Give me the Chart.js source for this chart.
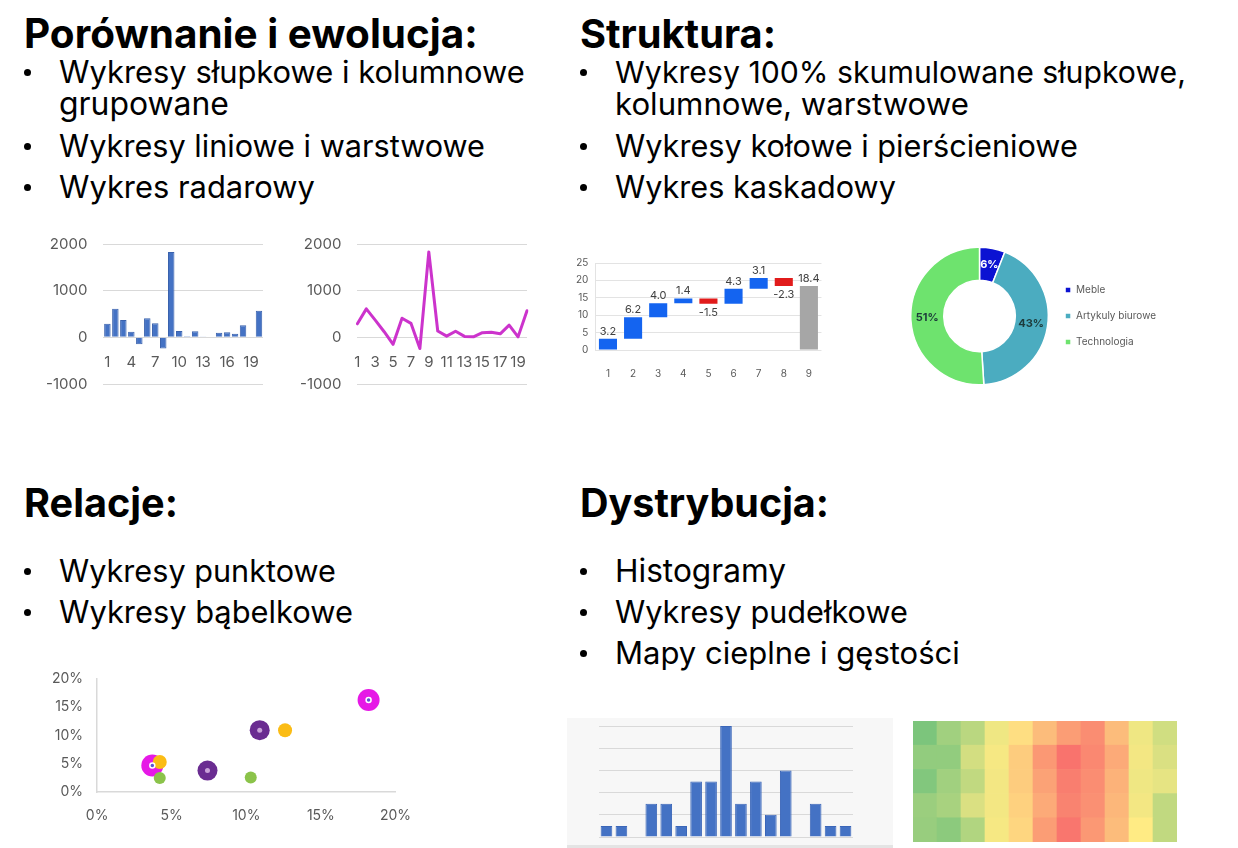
<!DOCTYPE html>
<html lang="pl">
<head>
<meta charset="utf-8">
<title>Rodzaje wykresów</title>
<script src="https://cdn.jsdelivr.net/npm/chart.js@4.4.1/dist/chart.umd.min.js"></script>
<style>
  html, body { margin: 0; padding: 0; background: #fff; }
  #page { position: relative; width: 1238px; height: 848px; overflow: hidden; font-family: Inter, "Open Sans", sans-serif; color: #000; }
  .t { position: absolute; white-space: nowrap; line-height: 1; }
  .h { font-weight: 700; }
  .bu { position: absolute; width: 7px; height: 7px; border-radius: 50%; background: #000; }
  .bl { display: inline-block; width: 0; height: 0; vertical-align: baseline; }
  .chart { position: absolute; }
  #histPanel { position: absolute; left: 567px; top: 718px; width: 326px; height: 130px; background: #f7f7f7; border-bottom: 3px solid #e4e4e4; box-sizing: border-box; }
</style>
</head>
<body>
<div id="page">
  <div class="t h" data-x="24" data-b="48" data-w="454"><span class="tx">Porównanie i ewolucja:</span><span class="bl"></span></div>
  <div class="t" data-x="59" data-b="83" data-w="466" data-bullet="1"><span class="tx">Wykresy słupkowe i kolumnowe</span><span class="bl"></span></div>
  <div class="t" data-x="59" data-b="115" data-w="170"><span class="tx">grupowane</span><span class="bl"></span></div>
  <div class="t" data-x="59" data-b="157" data-w="426" data-bullet="1"><span class="tx">Wykresy liniowe i warstwowe</span><span class="bl"></span></div>
  <div class="t" data-x="59" data-b="198" data-w="256" data-bullet="1"><span class="tx">Wykres radarowy</span><span class="bl"></span></div>

  <div class="t h" data-x="580" data-b="48" data-w="196"><span class="tx">Struktura:</span><span class="bl"></span></div>
  <div class="t" data-x="615" data-b="83" data-w="571" data-bullet="1"><span class="tx">Wykresy 100% skumulowane słupkowe,</span><span class="bl"></span></div>
  <div class="t" data-x="615" data-b="115" data-w="354"><span class="tx">kolumnowe, warstwowe</span><span class="bl"></span></div>
  <div class="t" data-x="615" data-b="157" data-w="463" data-bullet="1"><span class="tx">Wykresy kołowe i pierścieniowe</span><span class="bl"></span></div>
  <div class="t" data-x="615" data-b="198" data-w="281" data-bullet="1"><span class="tx">Wykres kaskadowy</span><span class="bl"></span></div>

  <div class="t h" data-x="24" data-b="517" data-w="154"><span class="tx">Relacje:</span><span class="bl"></span></div>
  <div class="t" data-x="59" data-b="582" data-w="277" data-bullet="1"><span class="tx">Wykresy punktowe</span><span class="bl"></span></div>
  <div class="t" data-x="59" data-b="623" data-w="294" data-bullet="1"><span class="tx">Wykresy bąbelkowe</span><span class="bl"></span></div>

  <div class="t h" data-x="580" data-b="517" data-w="249"><span class="tx">Dystrybucja:</span><span class="bl"></span></div>
  <div class="t" data-x="615" data-b="582" data-w="171" data-bullet="1"><span class="tx">Histogramy</span><span class="bl"></span></div>
  <div class="t" data-x="615" data-b="623" data-w="293" data-bullet="1"><span class="tx">Wykresy pudełkowe</span><span class="bl"></span></div>
  <div class="t" data-x="615" data-b="664" data-w="345" data-bullet="1"><span class="tx">Mapy cieplne i gęstości</span><span class="bl"></span></div>

  <div class="chart" style="left:30px;top:219px;width:237px;height:190px"><canvas id="barChart"></canvas></div>
  <div class="chart" style="left:284px;top:219px;width:251px;height:190px"><canvas id="lineChart"></canvas></div>
  <div class="chart" style="left:569px;top:250px;width:253px;height:140px"><canvas id="waterfallChart"></canvas></div>
  <div class="chart" style="left:910px;top:242px;width:256px;height:148px"><canvas id="donutChart"></canvas></div>
  <div class="chart" style="left:38px;top:656px;width:388px;height:183px"><canvas id="bubbleChart"></canvas></div>
  <div id="histPanel"></div>
  <div class="chart" style="left:567px;top:718px;width:326px;height:127px"><canvas id="histChart"></canvas></div>
  <div class="chart" style="left:913px;top:721px;width:264px;height:121px"><canvas id="heatChart"></canvas></div>
</div>

<script>
// ---- data ----
const periodLabels = ["1","2","3","4","5","6","7","8","9","10","11","12","13","14","15","16","17","18","19","20"];
const periodValues = [290, 610, 370, 120, -150, 410, 300, -240, 1830, 135, 25, 130, 20, 10, 100, 110, 75, 260, 10, 570];

const stepLabels = ["1","2","3","4","5","6","7","8","9"];
const stepChanges = [3.2, 6.2, 4.0, 1.4, -1.5, 4.3, 3.1, -2.3];
const stepTotal = 18.4;

const shareLabels = ["Meble", "Artykuly biurowe", "Technologia"];
const shareValues = [6, 43, 51];

const bubblesMagenta = [{x: 18.2, y: 16.2, r: 11}, {x: 3.7, y: 4.7, r: 11}];
const bubblesPurple = [{x: 10.9, y: 10.9, r: 10}, {x: 7.4, y: 3.8, r: 10}];
const bubblesOrange = [{x: 12.6, y: 10.9, r: 7}, {x: 4.2, y: 5.3, r: 7}];
const bubblesGreen = [{x: 4.2, y: 2.5, r: 6}, {x: 10.3, y: 2.6, r: 6}];

const histBins = ["","","","","","","","","","","","","","","","",""];
const histCounts = [1, 1, 0, 3, 3, 1, 5, 5, 10, 3, 5, 2, 6, 0, 3, 1, 1];

const heatColumns = ["1","2","3","4","5","6","7","8","9","10","11"];
// rows top to bottom, 0 = green, 0.5 = yellow, 1 = red
const heatRows = [
  [0.08, 0.20, 0.28, 0.45, 0.55, 0.68, 0.80, 0.86, 0.68, 0.45, 0.35],
  [0.15, 0.15, 0.36, 0.47, 0.62, 0.82, 0.96, 0.88, 0.75, 0.46, 0.38],
  [0.10, 0.20, 0.30, 0.46, 0.62, 0.78, 0.92, 0.86, 0.72, 0.45, 0.42],
  [0.18, 0.22, 0.38, 0.46, 0.60, 0.75, 0.90, 0.85, 0.70, 0.46, 0.30],
  [0.17, 0.13, 0.25, 0.47, 0.58, 0.80, 0.95, 0.82, 0.68, 0.50, 0.30]
];

// ---- text layout ----
document.querySelectorAll(".t").forEach(el => {
  const tx = el.querySelector(".tx");
  el.style.fontSize = "30px";
  const w = tx.getBoundingClientRect().width;
  const fs = 30 * (+el.dataset.w) / w;
  el.style.fontSize = fs + "px";
  el.style.left = el.dataset.x + "px";
  const base = el.querySelector(".bl").offsetTop;
  el.style.top = (+el.dataset.b - base) + "px";
  if (el.dataset.bullet) {
    const b = document.createElement("span");
    b.className = "bu";
    b.style.left = "-35px";
    b.style.top = (base - 14) + "px";
    el.appendChild(b);
  }
});

Chart.defaults.font.family = "Inter, 'Open Sans', sans-serif";
Chart.defaults.color = "#595959";
Chart.defaults.animation = false;
Chart.defaults.plugins.legend.display = false;
Chart.defaults.plugins.tooltip.enabled = false;

const gridGray = "#d9d9d9";

// shared y scale for the two small comparison charts
const smallY = {
  min: -1000, max: 2000,
  ticks: { stepSize: 1000, padding: 16, font: { size: 15 }, color: "#595959", callback: v => String(v) },
  grid: { color: gridGray, drawTicks: false },
  border: { display: false }
};

new Chart(document.getElementById("barChart"), {
  type: "bar",
  data: {
    labels: periodLabels,
    datasets: [{
      data: periodValues,
      backgroundColor: "#4472c4",
      borderColor: "#3a62ad",
      borderWidth: 1,
      categoryPercentage: 0.9,
      barPercentage: 0.9
    }]
  },
  options: {
    responsive: true,
    maintainAspectRatio: false,
    layout: { padding: 0 },
    scales: {
      x: {
        position: { y: 0 },
        grid: { display: false },
        border: { display: false },
        ticks: {
          autoSkip: false, maxRotation: 0, padding: 8, font: { size: 15 },
          callback: (v, i) => (i % 3 === 0 ? periodLabels[i] : "")
        }
      },
      y: smallY
    }
  }
});

new Chart(document.getElementById("lineChart"), {
  type: "line",
  data: {
    labels: periodLabels,
    datasets: [{
      data: periodValues,
      borderColor: "#cc33cc",
      borderWidth: 3,
      borderJoinStyle: "round",
      borderCapStyle: "round",
      pointRadius: 0,
      tension: 0
    }]
  },
  options: {
    responsive: true,
    maintainAspectRatio: false,
    layout: { padding: { right: 4 } },
    scales: {
      x: {
        position: { y: 0 },
        grid: { display: false },
        border: { display: false },
        ticks: {
          autoSkip: false, maxRotation: 0, padding: 8, font: { size: 15 },
          callback: (v, i) => (i % 2 === 0 ? periodLabels[i] : "")
        }
      },
      y: smallY
    }
  }
});

// waterfall: floating bars built from the changes
const stepRanges = [];
const stepColors = [];
let running = 0;
stepChanges.forEach(c => {
  stepRanges.push([running, running + c]);
  stepColors.push(c >= 0 ? "#1464f0" : "#e11b1b");
  running += c;
});
stepRanges.push([0, stepTotal]);
stepColors.push("#a6a6a6");
const stepTexts = stepChanges.map(c => c.toFixed(1)).concat([stepTotal.toFixed(1)]);

const waterfallLabels = {
  id: "waterfallLabels",
  afterDatasetsDraw(chart) {
    const ctx = chart.ctx;
    const meta = chart.getDatasetMeta(0);
    ctx.save();
    ctx.font = "11px Inter, sans-serif";
    ctx.fillStyle = "#404040";
    ctx.textAlign = "center";
    meta.data.forEach((bar, i) => {
      const neg = i < stepChanges.length && stepChanges[i] < 0;
      const top = Math.min(bar.y, bar.base);
      const bottom = Math.max(bar.y, bar.base);
      if (neg) {
        ctx.textBaseline = "top";
        ctx.fillText(stepTexts[i], bar.x, bottom + 3);
      } else {
        ctx.textBaseline = "bottom";
        ctx.fillText(stepTexts[i], bar.x, top - 2);
      }
    });
    ctx.restore();
  }
};

new Chart(document.getElementById("waterfallChart"), {
  type: "bar",
  data: {
    labels: stepLabels,
    datasets: [{
      data: stepRanges,
      backgroundColor: stepColors,
      borderSkipped: false,
      categoryPercentage: 0.9,
      barPercentage: 0.8
    }]
  },
  options: {
    responsive: true,
    maintainAspectRatio: false,
    scales: {
      x: {
        grid: { display: false },
        border: { display: false },
        ticks: { font: { size: 10 }, padding: 10 }
      },
      y: {
        min: 0, max: 25,
        ticks: { stepSize: 5, autoSkip: false, font: { size: 10 }, padding: 7 },
        grid: { color: "#e3e3e3", drawTicks: false },
        border: { display: true, color: "#e3e3e3" }
      }
    }
  },
  plugins: [waterfallLabels]
});

const donutLabels = {
  id: "donutLabels",
  afterDatasetsDraw(chart) {
    const ctx = chart.ctx;
    const meta = chart.getDatasetMeta(0);
    ctx.save();
    ctx.font = "bold 11px Inter, sans-serif";
    ctx.textAlign = "center";
    ctx.textBaseline = "middle";
    meta.data.forEach((arc, i) => {
      const p = arc.tooltipPosition();
      ctx.fillStyle = i === 0 ? "#ffffff" : "#1d3b3b";
      ctx.fillText(shareValues[i] + "%", p.x, p.y);
    });
    ctx.restore();
  }
};

new Chart(document.getElementById("donutChart"), {
  type: "doughnut",
  data: {
    labels: shareLabels,
    datasets: [{
      data: shareValues,
      backgroundColor: ["#0b12d2", "#4bacc0", "#6ee36e"],
      borderColor: "#ffffff",
      borderWidth: 1.5
    }]
  },
  options: {
    responsive: true,
    maintainAspectRatio: false,
    cutout: "52%",
    layout: { padding: 0 },
    plugins: {
      legend: {
        display: true,
        position: "right",
        labels: {
          boxWidth: 6, boxHeight: 6, padding: 16,
          font: { size: 10 }, color: "#595959"
        }
      }
    }
  },
  plugins: [donutLabels]
});

const pctAxis = {
  min: 0, max: 20,
  ticks: { stepSize: 5, font: { size: 14 }, color: "#595959", callback: v => v + "%" },
  grid: { display: false, drawTicks: false },
  border: { display: true, color: gridGray, width: 1.5 }
};

new Chart(document.getElementById("bubbleChart"), {
  type: "bubble",
  data: {
    datasets: [
      { data: bubblesMagenta.map(p => ({ x: p.x, y: p.y, r: 2.5 })), backgroundColor: "#5a55d0", borderColor: "#ffffff", borderWidth: 1.5, order: 0 },
      { data: bubblesPurple.map(p => ({ x: p.x, y: p.y, r: 2.5 })), backgroundColor: "#c9a3d9", borderWidth: 0, order: 0 },
      { data: bubblesGreen, backgroundColor: "#8bc34a", borderWidth: 0, order: 1 },
      { data: bubblesOrange, backgroundColor: "#fbbc15", borderWidth: 0, order: 2 },
      { data: bubblesPurple, backgroundColor: "#6a2c91", borderWidth: 0, order: 3 },
      { data: bubblesMagenta, backgroundColor: "#e619e6", borderWidth: 0, order: 4 }
    ]
  },
  options: {
    responsive: true,
    maintainAspectRatio: false,
    clip: false,
    scales: {
      x: { ...pctAxis, ticks: { ...pctAxis.ticks, padding: 15 } },
      y: { ...pctAxis, ticks: { ...pctAxis.ticks, padding: 14 } }
    }
  }
});

new Chart(document.getElementById("histChart"), {
  type: "bar",
  data: {
    labels: histBins,
    datasets: [{
      data: histCounts,
      backgroundColor: "#4472c4",
      borderColor: "#3b66b8",
      borderWidth: 1,
      categoryPercentage: 1,
      barPercentage: 0.78
    }]
  },
  options: {
    responsive: true,
    maintainAspectRatio: false,
    layout: { padding: { left: 32, right: 40, top: 8, bottom: 8 } },
    scales: {
      x: { display: false },
      y: {
        min: 0, max: 10,
        ticks: { display: false, stepSize: 2 },
        grid: { color: gridGray, drawTicks: false },
        border: { display: false }
      }
    }
  }
});

// heatmap as stacked unit bars, coloured with a green-yellow-red scale
function heatColor(v) {
  const g = [99, 190, 123], yl = [255, 235, 132], r = [248, 105, 107];
  const a = v < 0.5 ? g : yl, b = v < 0.5 ? yl : r;
  const t = v < 0.5 ? v / 0.5 : (v - 0.5) / 0.5;
  const c = a.map((x, i) => Math.round(x + (b[i] - x) * t));
  return "rgb(" + c.join(",") + ")";
}

new Chart(document.getElementById("heatChart"), {
  type: "bar",
  data: {
    labels: heatColumns,
    datasets: heatRows.slice().reverse().map(row => ({
      data: row.map(() => 1),
      backgroundColor: row.map(heatColor),
      borderWidth: 0,
      categoryPercentage: 1,
      barPercentage: 1
    }))
  },
  options: {
    responsive: true,
    maintainAspectRatio: false,
    layout: { padding: 0 },
    scales: {
      x: { display: false, stacked: true },
      y: { display: false, stacked: true, min: 0, max: heatRows.length }
    }
  }
});
</script>
</body>
</html>
